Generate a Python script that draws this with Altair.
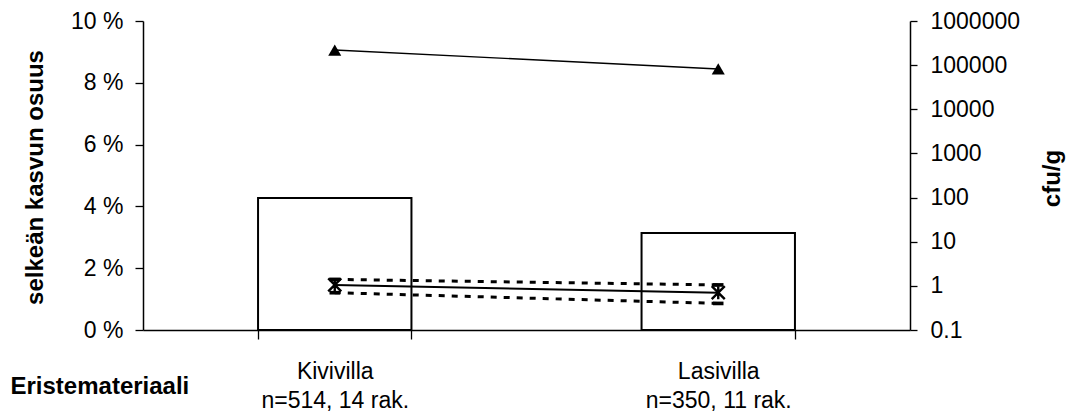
import altair as alt
import pandas as pd

# Insulation materials and their sample descriptions
categories = ["Kivivilla", "Lasivilla"]
sample_sizes = ["n=514, 14 rak.", "n=350, 11 rak."]

# Share of samples with clear growth (%), left axis
clear_growth_pct = [4.27, 3.14]

# Microbe concentrations (cfu/g), right log axis
cfu_max = [220000, 82000]
cfu_upper_quartile = [1.4, 1.05]
cfu_median = [1.05, 0.7]
cfu_lower_quartile = [0.7, 0.4]

pct_ticks = [0, 2, 4, 6, 8, 10]
cfu_ticks = [0.1, 1, 10, 100, 1000, 10000, 100000, 1000000]

FONT = "Liberation Sans"
LABEL_FS = 23
TITLE_FS = 24

labels = [f"{c}\n{n}" for c, n in zip(categories, sample_sizes)]

bars_df = pd.DataFrame({"material": labels, "share": clear_growth_pct})
cfu_df = pd.DataFrame({
    "material": labels * 4,
    "series": ["max"] * 2 + ["q3"] * 2 + ["median"] * 2 + ["q1"] * 2,
    "cfu": cfu_max + cfu_upper_quartile + cfu_median + cfu_lower_quartile,
})

x_enc = alt.X(
    "material:N",
    sort=labels,
    title="Eristemateriaali",
    scale=alt.Scale(paddingInner=0.6, paddingOuter=0.3),
    axis=alt.Axis(
        labelExpr="split(datum.label, '\\n')",
        labelAngle=0,
        labelFontSize=23,
        labelLineHeight=29,
        labelPadding=21,
        tickBand="extent",
        tickSize=9,
        titleX=-133,
        titleY=56,
        titleAlign="left",
        titleBaseline="middle",
    ),
)

bars = alt.Chart(bars_df).mark_bar(
    fill="white", stroke="black", strokeWidth=2
).encode(
    x=x_enc,
    y=alt.Y(
        "share:Q",
        scale=alt.Scale(domain=[0, 10], nice=False),
        axis=alt.Axis(
            values=pct_ticks,
            labelExpr="datum.value + ' %'",
            title="selkeän kasvun osuus",
            titleAngle=270,
            titleX=-108,
            titleY=156,
            titleAlign="center",
            titleBaseline="middle",
            tickSize=8,
            labelPadding=12,
        ),
    ),
)

y_cfu = alt.Y(
    "cfu:Q",
    scale=alt.Scale(type="log", domain=[0.1, 1000000], nice=False),
    axis=alt.Axis(
        orient="right",
        values=cfu_ticks,
        labelExpr="datum.value < 1 ? '0.1' : format(datum.value, 'd')",
        title="cfu/g",
        titleAngle=270,
        titleX=142,
        titleY=157,
        titleAlign="center",
        titleBaseline="middle",
        tickSize=7,
        labelPadding=13,
    ),
)

base = alt.Chart(cfu_df).encode(x=x_enc, y=y_cfu, detail="series:N")

def only(*names):
    return alt.FieldOneOfPredicate(field="series", oneOf=list(names))

max_line = base.transform_filter(only("max")).mark_line(
    color="black", strokeWidth=1.4
)
median_line = base.transform_filter(only("median")).mark_line(
    color="black", strokeWidth=2
)
dashed_lines = base.transform_filter(only("q1", "q3")).mark_line(
    color="black", strokeWidth=3, strokeDash=[6, 7]
)
max_pts = base.transform_filter(only("max")).mark_point(
    shape="triangle-up", filled=True, color="black", size=170, opacity=1
)
quart_pts = base.transform_filter(only("q1", "q3")).mark_point(
    shape="M-1,-0.35L1,-0.35L1,0.35L-1,0.35Z", filled=True, color="black",
    size=110, opacity=1
)
median_pts = base.transform_filter(only("median")).mark_point(
    shape="M-1,-1L1,1M1,-1L-1,1M0,-1L0,1", filled=False, color="black",
    strokeWidth=2.4, size=170, opacity=1
)

cfu_layer = alt.layer(max_line, median_line, dashed_lines, quart_pts, median_pts, max_pts)

chart = alt.layer(bars, cfu_layer).resolve_scale(y="independent").properties(
    width=767,
    height=309,
    padding={"left": 143, "top": 21, "right": 159, "bottom": 82},
    autosize=alt.AutoSizeParams(type="none"),
).configure_view(stroke=None).configure_axis(
    grid=False,
    domainColor="black",
    domainWidth=1.5,
    tickColor="black",
    tickWidth=1.3,
    labelColor="black",
    labelFont=FONT,
    labelFontSize=LABEL_FS,
    titleColor="black",
    titleFont=FONT,
    titleFontSize=TITLE_FS,
    titleFontWeight="bold",
)

chart.save("out.html", embed_options={"renderer": "svg", "actions": False})
